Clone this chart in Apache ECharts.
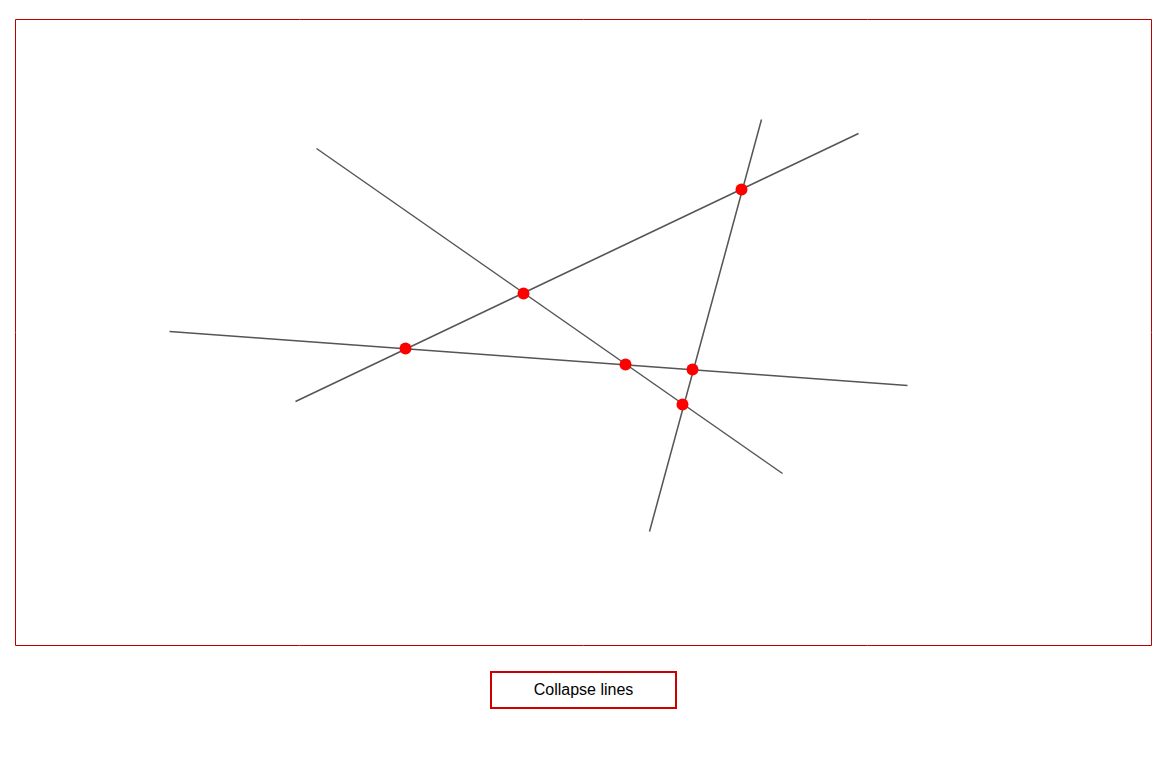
<!DOCTYPE html>
<html><head><meta charset="utf-8">
<script src="https://cdn.jsdelivr.net/npm/echarts@6/dist/echarts.min.js"></script>
<style>
html,body{margin:0;padding:0;background:#fff;}
#c{width:1162px;height:762px;position:absolute;left:0;top:0;}
#b{position:absolute;left:490px;top:671px;width:187px;height:38px;box-sizing:border-box;border:2px solid #c00;background:#fff;font:16px "Liberation Sans",Arial,sans-serif;color:#000;}
</style></head><body>
<div id="c"></div>
<button id="b">Collapse lines</button>
<script>
const lineA = [[316,148],[782,473]];
const lineB = [[295,401],[858,133]];
const lineC = [[169,331],[907,385]];
const lineD = [[761,119],[649,531]];
const intersections = [[741,189],[523,293],[405,348],[625,364],[692,369],[682,404]];
const lines = [lineA, lineB, lineC, lineD];
const chart = echarts.init(document.getElementById('c'));
const series = lines.map(l => ({type:'line', data:l, symbol:'none', lineStyle:{color:'#555', width:1.5}, silent:true, animation:false}));
series.push({type:'scatter', data:intersections, symbolSize:12, itemStyle:{color:'#f00', opacity:1}, z:5, animation:false});
chart.setOption({
  grid:{left:15.5, top:19.5, right:10.5, bottom:116.5, show:true, borderColor:'#b00', borderWidth:1, backgroundColor:'#fff'},
  xAxis:{type:'value', min:15, max:1151, show:false},
  yAxis:{type:'value', min:19, max:645, inverse:true, show:false},
  series
});
</script>
</body></html>
